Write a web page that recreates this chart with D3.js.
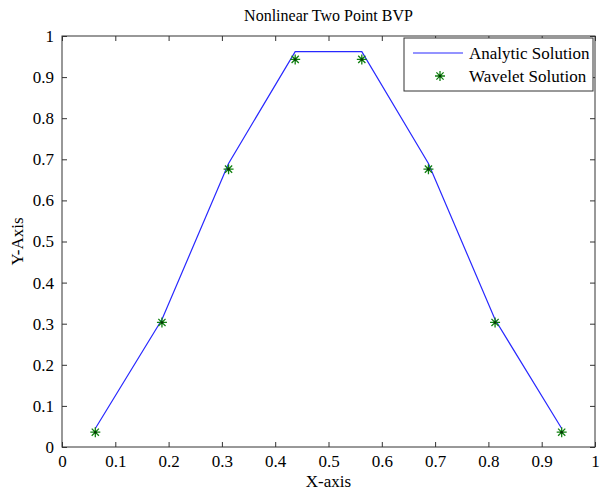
<!DOCTYPE html>
<html><head><meta charset="utf-8">
<script src="https://cdn.jsdelivr.net/npm/d3@7"></script>
<style>body{margin:0;background:#fff;} text{font-family:"Liberation Serif","Times New Roman",serif;fill:#000;}</style>
</head><body><svg id="c" width="601" height="493"></svg>
<script>
const xs = [0.0625, 0.1875, 0.3125, 0.4375, 0.5625, 0.6875, 0.8125, 0.9375];
const analytic = [0.045, 0.31, 0.69, 0.962, 0.962, 0.69, 0.31, 0.045];
const wavelet = [0.036, 0.303, 0.676, 0.943, 0.943, 0.676, 0.303, 0.036];
const xTicks = [0,0.1,0.2,0.3,0.4,0.5,0.6,0.7,0.8,0.9,1];
const yTicks = [0,0.1,0.2,0.3,0.4,0.5,0.6,0.7,0.8,0.9,1];
const legendLabels = ["Analytic Solution", "Wavelet Solution"];

const svg = d3.select("#c");
const L=62,R=595,T=36,B=447;
const x = d3.scaleLinear().domain([0,1]).range([L,R]);
const y = d3.scaleLinear().domain([0,1]).range([B,T]);
const fmt = d => d===0?"0":d===1?"1":d3.format(".1f")(d);

svg.append("rect").attr("x",L).attr("y",T).attr("width",R-L).attr("height",B-T)
  .attr("fill","none").attr("stroke","#333").attr("stroke-width",1);

const styleAxis = g => { g.select(".domain").remove(); g.selectAll("line").attr("stroke","#333");
  g.selectAll("text").style("font-size","17px").attr("fill","#000"); };
svg.append("g").attr("transform",`translate(0,${B})`)
  .call(d3.axisBottom(x).tickValues(xTicks).tickSize(-5).tickPadding(8).tickFormat(fmt)).call(styleAxis);
svg.append("g").attr("transform",`translate(0,${T})`)
  .call(d3.axisTop(x).tickValues(xTicks).tickSize(-5).tickFormat("")).call(styleAxis);
svg.append("g").attr("transform",`translate(${L},0)`)
  .call(d3.axisLeft(y).tickValues(yTicks).tickSize(-5).tickPadding(8).tickFormat(fmt)).call(styleAxis);
svg.append("g").attr("transform",`translate(${R},0)`)
  .call(d3.axisRight(y).tickValues(yTicks).tickSize(-5).tickFormat("")).call(styleAxis);

svg.append("path").datum(xs.map((v,i)=>[v,analytic[i]]))
  .attr("d", d3.line().x(d=>x(d[0])).y(d=>y(d[1])))
  .attr("fill","none").attr("stroke","#2828ff").attr("stroke-width",1.2);

function star(g, cx, cy){
  const s=5, d=3.6;
  const p = `M${cx-s},${cy}L${cx+s},${cy}M${cx},${cy-s}L${cx},${cy+s}M${cx-d},${cy-d}L${cx+d},${cy+d}M${cx-d},${cy+d}L${cx+d},${cy-d}`;
  g.append("path").attr("d",p).attr("stroke","#108010").attr("stroke-width",1.3).attr("fill","none");
  g.append("circle").attr("cx",cx).attr("cy",cy).attr("r",1.3).attr("fill","#0a300a");
}
const mg = svg.append("g");
xs.forEach((v,i)=>star(mg, x(v), y(wavelet[i])));

const lg = svg.append("g");
lg.append("rect").attr("x",404).attr("y",38).attr("width",189).attr("height",53)
  .attr("fill","#fff").attr("stroke","#333");
lg.append("line").attr("x1",413).attr("x2",463).attr("y1",53).attr("y2",53).attr("stroke","#2828ff").attr("stroke-width",1.2);
star(lg, 440, 76);
lg.append("text").attr("x",469).attr("y",59).style("font-size","17px").text(legendLabels[0]);
lg.append("text").attr("x",469).attr("y",82).style("font-size","17px").text(legendLabels[1]);

svg.append("text").attr("x",(L+R)/2).attr("y",21).attr("text-anchor","middle").style("font-size","16px").text("Nonlinear Two Point BVP");
svg.append("text").attr("x",(L+R)/2).attr("y",487).attr("text-anchor","middle").style("font-size","17px").text("X-axis");
svg.append("text").attr("transform",`translate(23,${(T+B)/2}) rotate(-90)`).attr("text-anchor","middle").style("font-size","17px").text("Y-Axis");
</script></body></html>
